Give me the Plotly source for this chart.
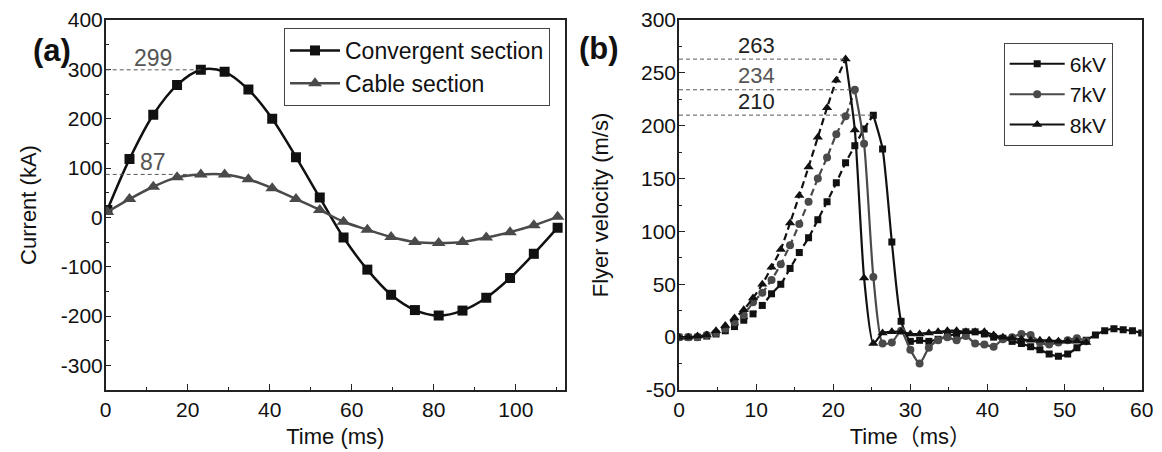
import plotly.graph_objects as go

# ---------------- Panel (a): current ----------------
time_a = [0.4, 5.8, 11.6, 17.4, 23.2, 29.0, 34.8, 40.6, 46.4, 52.2,
          58.0, 63.8, 69.6, 75.4, 81.2, 87.0, 92.8, 98.6, 104.4, 110.2]
convergent = [15, 118, 208, 268, 299, 295, 259, 200, 122, 40,
              -41, -106, -157, -188, -199, -189, -163, -123, -74, -21]
cable = [11, 37, 62, 81, 87, 87, 77, 59, 37, 15,
         -9, -25, -40, -50, -52, -50, -41, -30, -16, 1]
names_a = ["Convergent section", "Cable section"]
peak_labels_a = [299, 87]
yticks_a = [-300, -200, -100, 0, 100, 200, 300, 400]
yticklabels_a = ["-300", "-200", "-100", "0", "100", "200", "300", "400"]
xticks_a = [0, 20, 40, 60, 80, 100]

# ---------------- Panel (b): flyer velocity ----------------
time_b = [0.0, 1.2, 2.4, 3.6, 4.8, 6.0, 7.2, 8.4, 9.6, 10.8,
          12.0, 13.2, 14.4, 15.6, 16.8, 18.0, 19.2, 20.4, 21.6, 22.8,
          24.0, 25.2, 26.4, 27.6, 28.8, 30.0, 31.2, 32.4, 33.6, 34.8,
          36.0, 37.2, 38.4, 39.6, 40.8, 42.0, 43.2, 44.4, 45.6, 46.8,
          48.0, 49.2, 50.4, 51.6, 52.8, 54.0, 55.2, 56.4, 57.6, 58.8, 60.0]
v_6kv = [0, 0, 0, 1, 3, 6, 10, 16, 22, 30,
         41, 50, 65, 80, 94, 111, 128, 146, 165, 181,
         197, 210, 178, 90, 15, -4, -3, -4, -2, 1,
         3, 5, 5, 3, 0, -1, -4, -6, -9, -12,
         -16, -18, -16, -10, -3, 2, 6, 8, 7, 6, 4]
v_7kv = [0, 0, 0, 2, 4, 8, 14, 21, 33, 42,
         54, 69, 87, 107, 128, 150, 170, 192, 209, 234,
         183, 57, -6, -5, 6, -12, -25, -10, -3, 0,
         -3, 1, -6, -7, -9, -2, 0, 3, 2, -5,
         -7, -5, -3, -1, -4]
v_8kv = [0, 0, 1, 2, 6, 11, 18, 26, 37, 50,
         66, 83, 108, 134, 161, 189, 217, 243, 263, 196,
         56, -6, 4, 5, 5, 3, 3, 4, 5, 6,
         6, 5, 5, 5, 2, 0, -1, -2, -3, -3,
         -3, -4, -4, -4, -5]
names_b = ["6kV", "7kV", "8kV"]
peak_labels_b = [210, 234, 263]
yticks_b = [-50, 0, 50, 100, 150, 200, 250, 300]
yticklabels_b = ["-50", "0", "50", "100", "150", "200", "250", "300"]
xticks_b = [0, 10, 20, 30, 40, 50, 60]

FONT = "Liberation Sans, Arial, Noto Sans CJK SC, sans-serif"
BLACK = "#111111"
GRAY = "#4a4a4a"

# The page body has an 8px margin, so the figure is sized to fit the window
# and positions below are given in window pixels, then converted.
OFF = 8
W, H = 1162 - OFF, 452 - OFF


def px(x):
    return (x - OFF) / W


def py(y):
    return 1 - (y - OFF) / H


fig = go.Figure()

# ----- panel (a) traces -----
style_a = [("square", BLACK, 10), ("triangle-up", GRAY, 12)]
for name, ys, (sym, col, ms) in zip(names_a, [convergent, cable], style_a):
    fig.add_trace(go.Scatter(
        x=time_a, y=ys, name=name, mode="lines+markers",
        line=dict(color=col, width=2.5, shape="spline", smoothing=1.0),
        marker=dict(symbol=sym, size=ms, color=col),
        xaxis="x", yaxis="y", legend="legend"))

# ----- panel (b) traces -----
style_b = [("square", BLACK, 7), ("circle", GRAY, 8), ("triangle-up", BLACK, 9)]
series_b = [v_6kv, v_7kv, v_8kv]
for name, ys, (sym, col, ms) in zip(names_b, series_b, style_b):
    n = len(ys)
    ts = time_b[:n]
    ip = ys.index(max(ys))
    # rising part (dashed look)
    fig.add_trace(go.Scatter(
        x=ts[:ip + 1], y=ys[:ip + 1], mode="lines", showlegend=False,
        line=dict(color=col, width=2.2, dash="7px,4px", shape="spline", smoothing=0.6),
        xaxis="x2", yaxis="y2", hoverinfo="skip"))
    # falling part and tail (solid)
    fig.add_trace(go.Scatter(
        x=ts[ip:], y=ys[ip:], mode="lines", showlegend=False,
        line=dict(color=col, width=2.2, shape="spline", smoothing=0.6),
        xaxis="x2", yaxis="y2", hoverinfo="skip"))
    # markers
    fig.add_trace(go.Scatter(
        x=ts, y=ys, mode="markers", showlegend=False,
        marker=dict(symbol=sym, size=ms, color=col),
        xaxis="x2", yaxis="y2"))
    # legend entry
    fig.add_trace(go.Scatter(
        x=[None], y=[None], mode="lines+markers", name=name,
        line=dict(color=col, width=2),
        marker=dict(symbol=sym, size=ms, color=col),
        xaxis="x2", yaxis="y2", legend="legend2"))

# ----- dashed peak guide lines and labels -----
shapes = []
annotations = []
for ys, lab in zip([convergent, cable], peak_labels_a):
    xp = time_a[ys.index(max(ys))]
    shapes.append(dict(type="line", xref="x", yref="y", x0=0, x1=xp, y0=lab, y1=lab,
                       line=dict(color="#555555", width=1, dash="4px,3px")))
    annotations.append(dict(x=11.5, y=lab, xref="x", yref="y", text=str(lab),
                            showarrow=False, yshift=12,
                            font=dict(size=23, color="#555555", family=FONT)))
label_cols_b = ["#222222", "#555555", "#222222"]
for ys, lab, lc in zip(series_b, peak_labels_b, label_cols_b):
    xp = time_b[ys.index(max(ys))]
    shapes.append(dict(type="line", xref="x2", yref="y2", x0=0, x1=xp, y0=lab, y1=lab,
                       line=dict(color="#555555", width=1, dash="4px,3px")))
    annotations.append(dict(x=10.1, y=lab, xref="x2", yref="y2", text=str(lab),
                            showarrow=False, yshift=14,
                            font=dict(size=22, color=lc, family=FONT)))

annotations.append(dict(x=px(31), y=py(31), xref="paper", yref="paper",
                        text="<b>(a)</b>", showarrow=False,
                        font=dict(size=31, color=BLACK, family=FONT)))
annotations.append(dict(x=px(599), y=py(29), xref="paper", yref="paper",
                        text="<b>(b)</b>", showarrow=False,
                        font=dict(size=31, color=BLACK, family=FONT)))

axis_common = dict(showgrid=False, zeroline=False, showline=True, linecolor="#222222",
                   linewidth=1.5, mirror=True, ticks="inside", ticklen=6, tickwidth=1.3,
                   tickcolor="#222222", automargin=False,
                   tickfont=dict(size=21, color=BLACK, family=FONT))

y_dom = [py(390), py(20)]

fig.update_layout(
    width=W, height=H,
    margin=dict(l=0, r=0, t=0, b=0),
    paper_bgcolor="white", plot_bgcolor="white",
    font=dict(family=FONT, color=BLACK),
    xaxis=dict(axis_common, domain=[px(105.7), px(565)], range=[0, 112],
               tickvals=xticks_a,
               minor=dict(ticks="inside", ticklen=3.5, dtick=10, tickcolor="#222222"),
               title=dict(text="Time (ms)", font=dict(size=22, family=FONT), standoff=9),
               anchor="y"),
    yaxis=dict(axis_common, domain=y_dom, range=[-350, 400],
               tickvals=yticks_a, ticktext=yticklabels_a, ticklabelstandoff=-3,
               minor=dict(ticks="inside", ticklen=3.5, dtick=50, tickcolor="#222222"),
               title=dict(text="Current (kA)", font=dict(size=22, family=FONT), standoff=18),
               anchor="x"),
    xaxis2=dict(axis_common, domain=[px(679), px(1141.7)], range=[0, 60],
                tickvals=xticks_b,
                minor=dict(ticks="inside", ticklen=3.5, dtick=5, tickcolor="#222222"),
                title=dict(text="Time（ms）", font=dict(size=22, family=FONT), standoff=9),
                anchor="y2"),
    yaxis2=dict(axis_common, domain=y_dom, range=[-50, 300],
                tickvals=yticks_b, ticktext=yticklabels_b, ticklabelstandoff=-3,
                minor=dict(ticks="inside", ticklen=3.5, dtick=25, tickcolor="#222222"),
                title=dict(text="Flyer velocity (m/s)", font=dict(size=22, family=FONT), standoff=26),
                anchor="x2"),
    legend=dict(x=px(550), y=py(28), xanchor="right", yanchor="top",
                bordercolor="#444444", borderwidth=1, bgcolor="white",
                font=dict(size=23, color=BLACK, family=FONT), itemwidth=50,
                tracegroupgap=0),
    legend2=dict(x=px(1112.7), y=py(42.7), xanchor="right", yanchor="top",
                 bordercolor="#444444", borderwidth=1, bgcolor="white",
                 font=dict(size=21, color=BLACK, family=FONT), itemwidth=55,
                 tracegroupgap=0),
    shapes=shapes, annotations=annotations,
    showlegend=True,
)

fig.write_html("out.html")
